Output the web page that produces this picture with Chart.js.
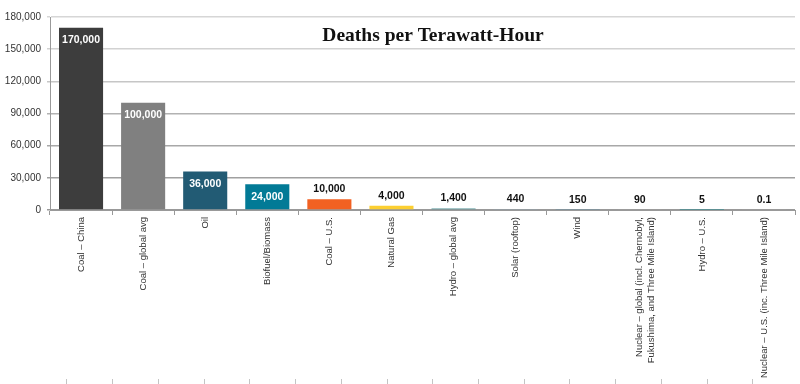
<!DOCTYPE html>
<html>
<head>
<meta charset="utf-8">
<script src="https://cdn.jsdelivr.net/npm/chart.js@4.4.1/dist/chart.umd.min.js"></script>
<style>
  html, body { margin: 0; padding: 0; background: #fff; }
  #wrap { width: 800px; height: 384px; }
</style>
</head>
<body>
<div id="wrap"><canvas id="canvas1"></canvas></div>
<script>
var labels = [
  "Coal – China",
  "Coal – global avg",
  "Oil",
  "Biofuel/Biomass",
  "Coal – U.S.",
  "Natural Gas",
  "Hydro – global avg",
  "Solar (rooftop)",
  "Wind",
  ["Nuclear – global (incl. Chernobyl,", "Fukushima, and Three Mile Island)"],
  "Hydro – U.S.",
  "Nuclear – U.S. (inc. Three Mile Island)"
];
var deaths = [170000, 100000, 36000, 24000, 10000, 4000, 1400, 440, 150, 90, 5, 0.1];
var valueText = ["170,000", "100,000", "36,000", "24,000", "10,000", "4,000", "1,400", "440", "150", "90", "5", "0.1"];
var barColors = ["#3d3d3d", "#808080", "#225b74", "#027a96", "#f26122", "#fccf31", "#4a8e92",
  "#8aa9b8", "#6f8fa0", "#9c9c9c", "#4a8e92", "#9c9c9c"];
var yTicks = [0, 30000, 60000, 90000, 120000, 150000, 180000];
var gridColors = ["#999999", "#a0a0a0", "#a8a8a8", "#b2b2b2", "#c6c6c6", "#d2d2d2", "#d6d6d6"];
// stray tick row along the bottom edge of the picture
var bottomTicks = [0, 1, 2, 3, 4, 5, 6, 7, 8, 9, 10, 11, 12, 13, 14];
var titleText = "Deaths per Terawatt-Hour";

function fmt(v) {
  return v.toLocaleString("en-US");
}

// value labels on the bars + the title in the plot
var barText = {
  id: "barText",
  afterDatasetsDraw: function(chart) {
    var ctx = chart.ctx;
    var meta = chart.getDatasetMeta(0);
    ctx.save();
    ctx.textAlign = "center";
    ctx.textBaseline = "middle";
    ctx.font = "bold 10.5px 'Liberation Sans', Arial, sans-serif";
    for (var i = 0; i < meta.data.length; i++) {
      var bar = meta.data[i];
      if (i < 4) {
        ctx.fillStyle = "#ffffff";
        ctx.fillText(valueText[i], bar.x, bar.y + 12.5);
      } else {
        ctx.fillStyle = "#111111";
        ctx.fillText(valueText[i], bar.x, bar.y - 10);
      }
    }
    ctx.font = "bold 19.5px 'Liberation Serif', 'DejaVu Serif', serif";
    ctx.fillStyle = "#111111";
    ctx.fillText(titleText, 433, 36);
    ctx.restore();
  }
};

var ctx1 = document.getElementById("canvas1");
var myChart1 = new Chart(ctx1, {
  type: "bar",
  data: {
    labels: labels,
    datasets: [{
      label: "Deaths per TWh",
      data: deaths,
      backgroundColor: barColors,
      borderWidth: 0,
      categoryPercentage: 1,
      barPercentage: 0.71
    }]
  },
  options: {
    responsive: true,
    maintainAspectRatio: false,
    animation: false,
    layout: { padding: { top: 17, right: 5, left: 0, bottom: 0 } },
    plugins: {
      legend: { display: false },
      tooltip: { enabled: false }
    },
    scales: {
      x: {
        position: "bottom",
        grid: { drawOnChartArea: false, tickLength: 5, color: "#999999", offset: true },
        border: { display: true, color: "#999999", width: 1 },
        ticks: {
          autoSkip: false,
          minRotation: 90,
          maxRotation: 90,
          padding: 2,
          color: "#333333",
          font: { family: "'Liberation Sans', Arial, sans-serif", size: 9.5 }
        },
        afterFit: function(s) { s.height = 169; }
      },
      x2: {
        type: "linear",
        position: "bottom",
        bounds: "data",
        min: -0.3265,
        max: 14.878,
        grid: { drawOnChartArea: false, tickLength: 5, color: "#c4c4c4" },
        border: { display: false },
        ticks: { display: false },
        afterBuildTicks: function(s) {
          s.ticks = bottomTicks.map(function(v) { return { value: v }; });
        }
      },
      y: {
        min: 0,
        max: 180000,
        grid: {
          tickLength: 3,
          color: function(c) { return gridColors[c.index] || "#bbbbbb"; },
          lineWidth: 1.5
        },
        border: { display: true, color: "#999999", width: 1 },
        ticks: {
          stepSize: 30000,
          padding: 6,
          color: "#333333",
          font: { family: "'Liberation Sans', Arial, sans-serif", size: 10 },
          callback: function(v) { return yTicks.indexOf(v) >= 0 ? fmt(v) : ""; }
        },
        afterFit: function(s) { s.width = 50; }
      }
    }
  },
  plugins: [barText]
});
</script>
</body>
</html>
